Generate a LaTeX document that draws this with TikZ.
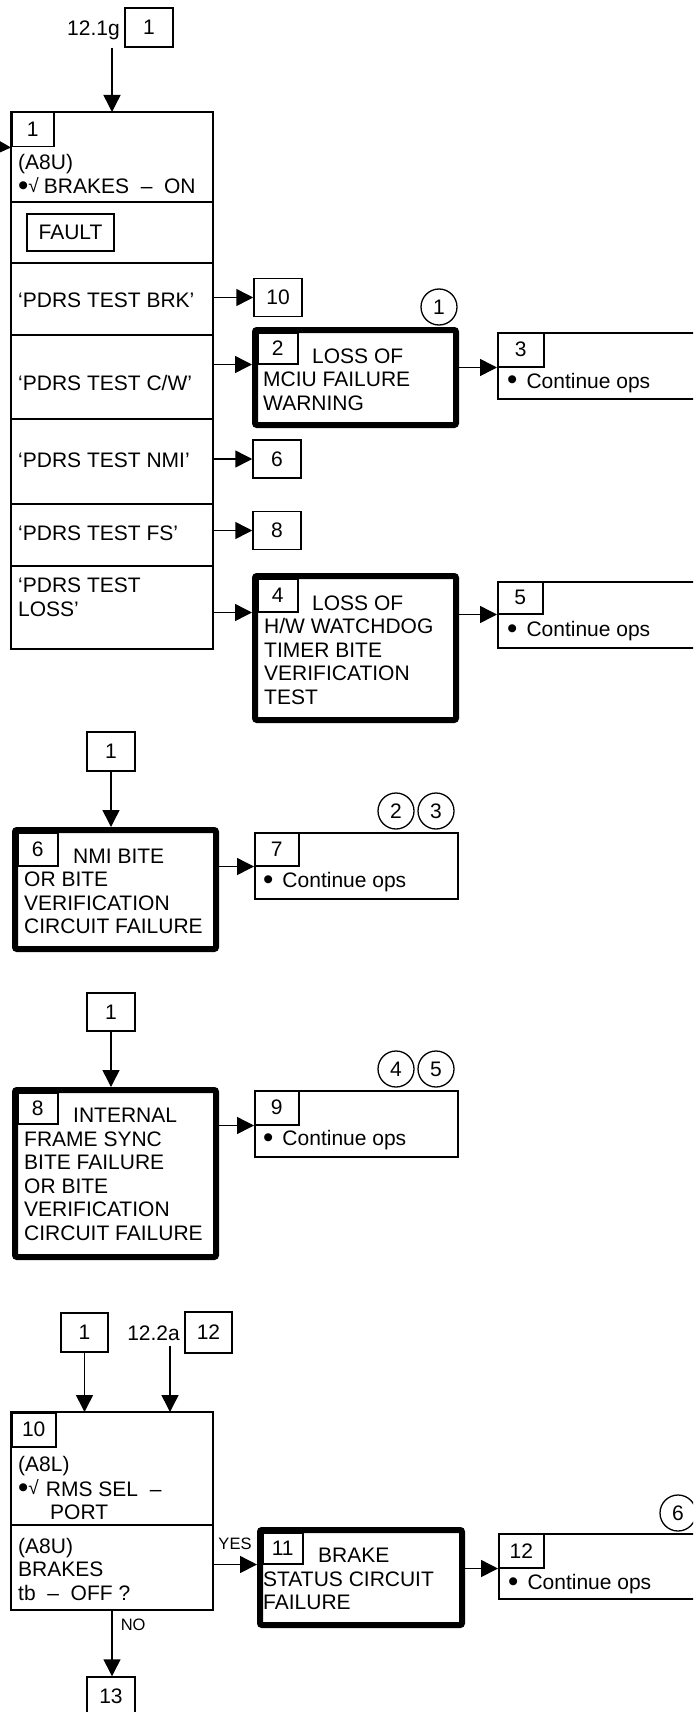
\documentclass[tikz,border=0pt]{standalone}
\usepackage{fontspec}
\setmainfont{Liberation Sans}
\usepackage{graphicx}
\usepackage{tikz}
\usetikzlibrary{
  arrows.meta,
  positioning
}

\newcommand{\pdrsfont}{\fontsize{21}{23.5}\selectfont}
\newcommand{\pdrssmall}{\fontsize{16.5}{18}\selectfont}
\newcommand{\chkmark}{\raisebox{1.5pt}{\fontsize{19}{19}\selectfont √}}
\newcommand{\blob}{\raisebox{-1.5pt}{\scalebox{1.4}{•}}}

\tikzset{
  tile/.style={draw, line width=1.5pt, anchor=north west, inner sep=0pt, outer sep=0pt, minimum width=202pt},
  numbox/.style={draw, line width=1.5pt, anchor=north west, inner sep=0pt},
  refbox/.style={draw, line width=1.5pt, inner sep=0pt, minimum width=48pt, minimum height=39pt},
  failbox/.style={draw, line width=6pt, rounded corners=2pt, inner sep=0pt, minimum width=201pt},
  opsbox/.style={draw, line width=1.5pt, anchor=north west, inner sep=0pt, minimum width=203pt, minimum height=66pt},
  txt/.style={anchor=north west, inner sep=0pt, align=left},
  rowtext/.style={anchor=base west, inner sep=0pt},
  note/.style={draw, circle, line width=1.3pt, minimum size=36pt, inner sep=0pt},
  flow/.style={line width=1.5pt, -{Triangle[length=17pt,width=17pt]}}
}

\begin{document}
\begin{tikzpicture}[x=1pt, y=-1pt, every node/.style={font=\pdrsfont}]

\useasboundingbox (0,0) rectangle (693,1712);
\clip (0,0) rectangle (693,1712);

% Entry from 12.1g
\node[rowtext, anchor=base east] (lbl121g) at (120,35.5) {12.1g};
\node[refbox] (ref1a) at (149,27.5) {1};

% Block 1 with its test messages
\node[tile, minimum height=90pt] (rowA) at (11,112) {};
\node[tile, minimum height=61pt] (rowB) at (11,202) {};
\node[tile, minimum height=72pt] (rowC) at (11,263) {};
\node[tile, minimum height=84pt] (rowD) at (11,335) {};
\node[tile, minimum height=85pt] (rowE) at (11,419) {};
\node[tile, minimum height=62pt] (rowF) at (11,504) {};
\node[tile, minimum height=83pt] (rowG) at (11,566) {};
\node[numbox, minimum width=42pt, minimum height=34pt] (n1) at (11,112) {1};
\node[txt] (tA) at (18,152.5) {\strut(A8U)\\\blob\chkmark\hspace{5pt}BRAKES \ – \ ON};
\node[draw, line width=1.5pt, inner sep=0pt, minimum width=87pt, minimum height=37pt] (fault) at (70.5,232.5) {FAULT};
\node[rowtext] (tC) at (18,307) {‘PDRS TEST BRK’};
\node[rowtext] (tD) at (18,390) {‘PDRS TEST C/W’};
\node[rowtext] (tE) at (18,467.5) {‘PDRS TEST NMI’};
\node[rowtext] (tF) at (18,540) {‘PDRS TEST FS’};
\node[txt] (tG) at (18,576) {\strut‘PDRS TEST\\LOSS’};

\coordinate (loopin) at (-20,146);
\draw[flow] (loopin) -- (n1.south west);
\draw[flow] (ref1a.south -| rowA.north) -- (rowA.north);

% Exits of block 1
\node[refbox, minimum height=38pt] (ref10) at (278,297.5) {10};
\node[refbox, minimum height=38pt] (ref6) at (277,459) {6};
\node[refbox, minimum height=38pt] (ref8) at (277,530.5) {8};

\node[failbox, minimum height=95pt] (fail2) at (355.5,377.5) {};
\node[numbox, minimum width=40pt, minimum height=31pt] (n2) at (257,332) {2};
\node[txt] (t2) at (263,346.5) {\strut\hspace*{49pt}LOSS OF\\MCIU FAILURE\\WARNING};
\node[note] (note1) at (439,307) {1};

\node[opsbox] (ops3) at (497,332) {};
\node[numbox, minimum width=46pt, minimum height=34pt] (n3) at (497,332) {3};
\node[rowtext] (t3) at (507,388) {\blob\hspace{9pt}Continue ops};

\node[failbox, minimum height=144pt] (fail4) at (355.5,648) {};
\node[numbox, minimum width=40pt, minimum height=33pt] (n4) at (257,578) {4};
\node[txt] (t4) at (264,593.5) {\strut\hspace*{48pt}LOSS OF\\H/W WATCHDOG\\TIMER BITE\\VERIFICATION\\TEST};

\node[opsbox] (ops5) at (497,581) {};
\node[numbox, minimum width=45pt, minimum height=32pt] (n5) at (497,581) {5};
\node[rowtext] (t5) at (507,636.5) {\blob\hspace{9pt}Continue ops};

\draw[flow] (rowC.east |- ref10.west) -- (ref10.west);
\draw[flow] (rowD.east |- n2.south west) -- (fail2.west |- n2.south west);
\draw[flow] (rowE.east |- ref6.west) -- (ref6.west);
\draw[flow] (rowF.east |- ref8.west) -- (ref8.west);
\draw[flow] (rowG.east |- n4.south west) -- (fail4.west |- n4.south west);
\draw[flow] (fail2.east |- n3.south west) -- (n3.south west);
\draw[flow] (fail4.east |- n5.south west) -- (n5.south west);

% NMI BITE
\node[refbox] (ref1b) at (111,751.5) {1};
\node[failbox, minimum height=119pt] (fail6) at (115.5,889.5) {};
\node[numbox, minimum width=40pt, minimum height=33pt] (n6) at (17,832) {6};
\node[txt] (t6) at (24,846.5) {\strut\hspace*{49pt}NMI BITE\\OR BITE\\VERIFICATION\\CIRCUIT FAILURE};
\node[opsbox] (ops7) at (254,832) {};
\node[numbox, minimum width=44pt, minimum height=33pt] (n7) at (254,832) {7};
\node[rowtext] (t7) at (263,887.5) {\blob\hspace{9pt}Continue ops};
\node[note] (note2) at (396,811) {2};
\node[note] (note3) at (436,811) {3};

\draw[flow] (ref1b.south) -- (ref1b.south |- fail6.north);
\draw[flow] (fail6.east |- n7.south west) -- (n7.south west);

% Frame sync BITE
\node[refbox, minimum height=38pt] (ref1c) at (111,1012) {1};
\node[failbox, minimum height=167pt] (fail8) at (115.5,1173.5) {};
\node[numbox, minimum width=40pt, minimum height=31pt] (n8) at (17,1092) {8};
\node[txt] (t8) at (24,1106) {\strut\hspace*{49pt}INTERNAL\\FRAME SYNC\\BITE FAILURE\\OR BITE\\VERIFICATION\\CIRCUIT FAILURE};
\node[opsbox] (ops9) at (254,1090) {};
\node[numbox, minimum width=44pt, minimum height=34pt] (n9) at (254,1090) {9};
\node[rowtext] (t9) at (263,1145.5) {\blob\hspace{9pt}Continue ops};
\node[note] (note4) at (396,1069) {4};
\node[note] (note5) at (436,1069) {5};

\draw[flow] (ref1c.south) -- (ref1c.south |- fail8.north);
\draw[flow] (fail8.east |- n9.south west) -- (n9.south west);

% Brake status check
\node[refbox, minimum width=47pt] (ref1d) at (84.5,1332.5) {1};
\node[rowtext, anchor=base east] (lbl122a) at (180,1340.5) {12.2a};
\node[refbox, minimum width=47pt, minimum height=41pt] (ref12) at (208.5,1332.5) {12};
\coordinate (from122a) at ([xshift=-10pt, yshift=-5.5pt]lbl122a.south east);

\node[tile, minimum height=113pt] (row10a) at (11,1412) {};
\node[tile, minimum height=85pt] (row10b) at (11,1525) {};
\node[numbox, minimum width=44pt, minimum height=34pt] (n10) at (11,1412) {10};
\node[txt] (t10a) at (18,1455) {\strut(A8L)\\\blob\chkmark\hspace{7pt}RMS SEL \ –\\\hspace*{32pt}PORT};
\node[txt] (t10b) at (18,1536.5) {\strut(A8U)\\BRAKES\\tb \ – \ OFF ?};

\node[failbox, minimum width=202pt, minimum height=95pt] (fail11) at (361,1577.5) {};
\node[numbox, minimum width=40pt, minimum height=31pt] (n11) at (262,1532) {11};
\node[txt] (t11) at (263,1546) {\strut\hspace*{55pt}BRAKE\\STATUS CIRCUIT\\FAILURE};
\node[opsbox, minimum height=65pt] (ops12) at (498,1533) {};
\node[numbox, minimum width=45pt, minimum height=34pt] (n12) at (498,1533) {12};
\node[rowtext] (t12) at (508,1589.5) {\blob\hspace{9pt}Continue ops};
\node[note] (note6) at (678,1513) {6};
\node[refbox] (ref13) at (111,1696.5) {13};

\draw[flow] (ref1d.south) -- (ref1d.south |- row10a.north);
\draw[flow] (from122a) -- (from122a |- row10a.north);
\draw[flow] (row10b.east |- n11.south west) -- (fail11.west |- n11.south west)
  node[above=14pt, pos=.5, inner sep=0pt, font=\pdrssmall] (yes) {YES};
\draw[flow] (fail11.east |- n12.south west) -- (n12.south west);
\draw[flow] (row10b.south) -- (row10b.south |- ref13.north)
  node[right=8pt, pos=.22, inner sep=0pt, font=\pdrssmall] (no) {NO};

\end{tikzpicture}
\end{document}
